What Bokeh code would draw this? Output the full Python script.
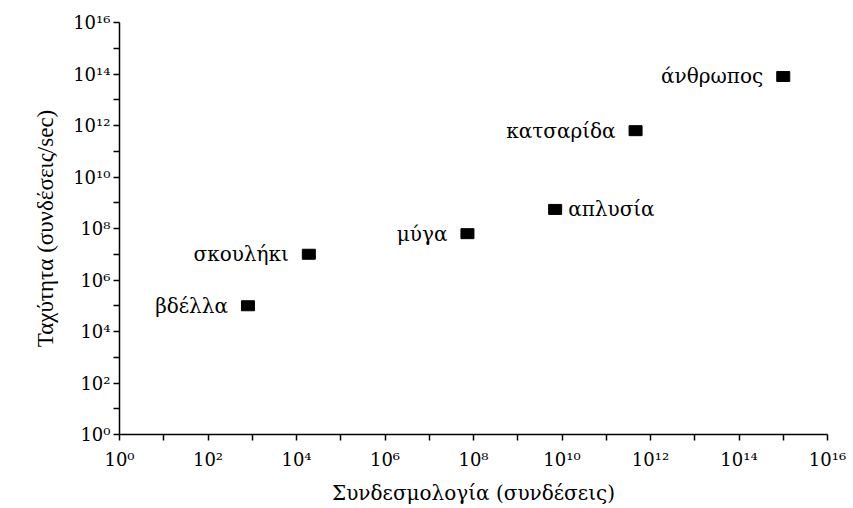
from bokeh.plotting import figure
from bokeh.models import ColumnDataSource, FixedTicker, CustomJSTickFormatter, Range1d
from bokeh.core.properties import value
from bokeh.embed import file_html
from bokeh.resources import INLINE

# ---- data ----
organisms = ["βδέλλα", "σκουλήκι", "μύγα", "απλυσία", "κατσαρίδα", "άνθρωπος"]
connections = [8.0e2, 1.9e4, 7.3e7, 7.0e9, 4.6e11, 1.0e15]      # x: Συνδεσμολογία
speed = [1.0e5, 1.0e7, 6.3e7, 5.5e8, 6.3e11, 8.0e13]            # y: συνδέσεις/sec
label_side = ["left", "left", "left", "right", "left", "left"]

major_exponents = [0, 2, 4, 6, 8, 10, 12, 14, 16]
minor_exponents = [1, 3, 5, 7, 9, 11, 13, 15]

x_title = "Συνδεσμολογία (συνδέσεις)"
y_title = "Ταχύτητα (συνδέσεις/sec)"

SERIF = "DejaVu Serif"

p = figure(width=853, height=508, x_axis_type="log", y_axis_type="log",
           x_range=Range1d(1, 1e16), y_range=Range1d(1, 1e16),
           output_backend="svg", toolbar_location=None,
           min_border_left=119, min_border_right=26,
           min_border_top=22, min_border_bottom=74)
p.background_fill_color = "white"
p.border_fill_color = "white"
p.outline_line_color = None
p.grid.visible = False

fmt = CustomJSTickFormatter(code="""
const sup = {"0":"\u2070","1":"\u00b9","2":"\u00b2","3":"\u00b3","4":"\u2074",
             "5":"\u2075","6":"\u2076","7":"\u2077","8":"\u2078","9":"\u2079"};
const e = Math.round(Math.log10(tick));
return "10" + String(e).split("").map(c => sup[c]).join("");
""")

for ax in (p.xaxis[0], p.yaxis[0]):
    ax.ticker = FixedTicker(ticks=[10.0 ** k for k in major_exponents],
                            minor_ticks=[10.0 ** k for k in minor_exponents])
    ax.formatter = fmt
    ax.axis_line_color = "black"
    ax.axis_line_width = 1.5
    ax.major_tick_line_color = "black"
    ax.minor_tick_line_color = "black"
    ax.major_tick_line_width = 1.5
    ax.minor_tick_line_width = 1.5
    ax.major_tick_in = 0
    ax.major_tick_out = 6
    ax.minor_tick_in = 0
    ax.minor_tick_out = 6
    ax.major_label_text_font = SERIF
    ax.major_label_text_font_size = "18px"
    ax.major_label_text_color = "black"
    ax.axis_label_text_color = "black"
    ax.axis_label_text_font_style = "normal"

p.xaxis.major_label_standoff = 8
p.yaxis.major_label_standoff = 3
p.xaxis.axis_label = x_title
p.xaxis.axis_label_text_font = SERIF
p.xaxis.axis_label_text_font_size = "20px"
p.xaxis.axis_label_standoff = 8
p.yaxis.axis_label = y_title
p.yaxis.axis_label_text_font = "Liberation Serif"
p.yaxis.axis_label_text_font_size = "23px"
p.yaxis.axis_label_standoff = 12

src = ColumnDataSource(dict(x=connections, y=speed, name=organisms, side=label_side))
p.rect("x", "y", width=13, height=10, width_units="screen", height_units="screen",
       source=src, fill_color="black", line_color="black")

left_idx = [i for i, s in enumerate(label_side) if s == "left"]
right_idx = [i for i, s in enumerate(label_side) if s == "right"]

lsrc = ColumnDataSource(dict(x=[connections[i] for i in left_idx],
                             y=[speed[i] for i in left_idx],
                             name=[organisms[i] for i in left_idx]))
rsrc = ColumnDataSource(dict(x=[connections[i] for i in right_idx],
                             y=[speed[i] for i in right_idx],
                             name=[organisms[i] for i in right_idx]))
p.text("x", "y", text="name", source=lsrc, text_align="right", text_baseline="middle",
       x_offset=-20, text_font=value(SERIF), text_font_size="20px", text_color="black")
p.text("x", "y", text="name", source=rsrc, text_align="left", text_baseline="middle",
       x_offset=13, text_font=value(SERIF), text_font_size="20px", text_color="black")

with open("out.html", "w", encoding="utf-8") as f:
    f.write(file_html(p, INLINE))
